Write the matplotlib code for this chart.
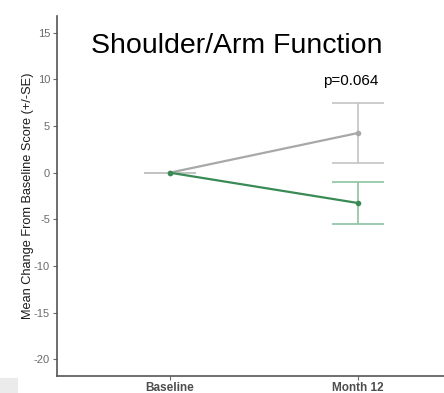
import numpy as np
import matplotlib
matplotlib.use("Agg")
import matplotlib.pyplot as plt
from matplotlib.patches import Rectangle

plt.rcParams['font.family'] = ['Liberation Sans', 'DejaVu Sans']

# data
timepoints = ['Baseline', 'Month 12']
grey_mean = [0.0, 4.25]
grey_se = [0.0, 3.2]
green_mean = [0.0, -3.25]
green_se = [0.0, 2.3]
p_label = 'p=0.064'
title = 'Shoulder/Arm Function'
yticks = [15, 10, 5, 0, -5, -10, -15, -20]

W, H = 444, 393
fig = plt.figure(figsize=(W / 100, H / 100), dpi=100)
ax = fig.add_axes([57 / W, (H - 376) / H, (W - 57) / W, (376 - 16) / H])

x = np.arange(1, len(timepoints) + 1)

# error bars first (lighter), then lines on top
ax.errorbar(x, green_mean, yerr=green_se, fmt='none', ecolor='#8dc4a1',
            elinewidth=1.2, capsize=18.5, capthick=1.2, zorder=2)
ax.errorbar(x, grey_mean, yerr=grey_se, fmt='none', ecolor='#c4c4c4',
            elinewidth=1.2, capsize=18.5, capthick=1.2, zorder=2)
ax.plot(x, grey_mean, color='#a8a8a8', lw=1.6, marker='o', ms=3, zorder=3)
ax.plot(x, green_mean, color='#3a8a55', lw=1.6, marker='o', ms=3, zorder=4)

ax.text(x[1] - 0.04, grey_mean[1] + grey_se[1] + 1.6, p_label,
        ha='center', va='bottom', fontsize=11, color='black')
ax.text(1.357, 12.2, title, ha='center', va='bottom', fontsize=20.5, color='black')

ax.set_xlim(0.4, 0.4 + (W - 57) / 188)
ax.set_ylim(-21.8, 16.8)
ax.set_xticks(x)
ax.set_xticklabels(timepoints, fontweight='bold', fontsize=8.5, color='#4d4d4d')
ax.set_yticks(yticks)
ax.set_yticklabels([str(v) for v in yticks], fontsize=8, color='#6b6b6b')
ax.tick_params(axis='both', length=3, width=0.8, color='#6b6b6b', pad=2)
ax.tick_params(axis='x', pad=1)
ax.set_ylabel('Mean Change From Baseline Score (+/-SE)', fontsize=9.2,
              color='#1a1a1a', labelpad=0)
ax.yaxis.set_label_coords(-0.06, 0.5)

for side in ['top', 'right']:
    ax.spines[side].set_visible(False)
for side in ['left', 'bottom']:
    ax.spines[side].set_color('#555555')
    ax.spines[side].set_linewidth(1.2)

# leftover grey strip bottom-left
fig.patches.append(Rectangle((0, 0), 18 / W, 15 / H, transform=fig.transFigure,
                             facecolor='#ebebeb', edgecolor='none'))

fig.savefig('out.png', dpi=100)
